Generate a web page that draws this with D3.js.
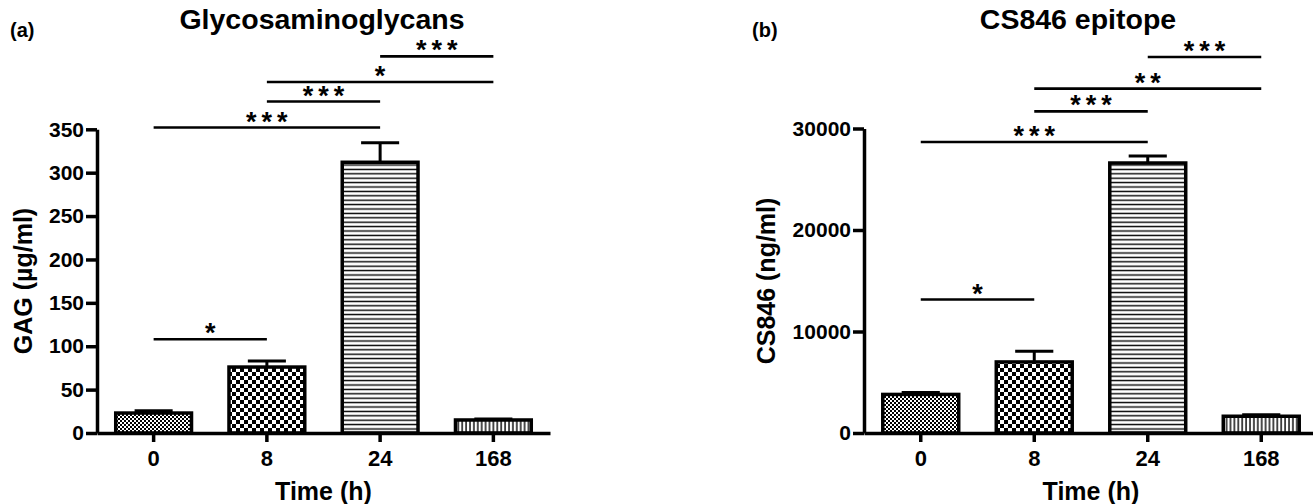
<!DOCTYPE html>
<html><head><meta charset="utf-8">
<script src="https://cdn.jsdelivr.net/npm/d3@7"></script>
<style>
body{margin:0;background:#fff}
svg{display:block}
text{font-family:"Liberation Sans",Arial,Helvetica,sans-serif;font-weight:bold;fill:#000}
</style>
</head><body>
<svg id="chart" width="1313" height="504"></svg>
<script>
// ---------- data ----------
const categories = ["0", "8", "24", "168"];
const patternIds = ["pFine", "pCheck", "pHLines", "pVLines"];

const gagTitle = "Glycosaminoglycans";
const gagYLabel = "GAG (\u00b5g/ml)";
const gagMeans = [23, 76, 312, 15];
const gagErrors = [2.5, 7, 22.5, 1];
const gagTicks = [0, 50, 100, 150, 200, 250, 300, 350];
const gagSig = [
  {a: "0", b: "8", label: "*", y: 108},
  {a: "0", b: "24", label: "***", y: 352},
  {a: "8", b: "24", label: "***", y: 382},
  {a: "8", b: "168", label: "*", y: 404.5},
  {a: "24", b: "168", label: "***", y: 434}
];

const csTitle = "CS846 epitope";
const csYLabel = "CS846 (ng/ml)";
const csMeans = [3800, 7000, 26600, 1650];
const csErrors = [200, 1050, 700, 160];
const csTicks = [0, 10000, 20000, 30000];
const csSig = [
  {a: "0", b: "8", label: "*", y: 13150},
  {a: "0", b: "24", label: "***", y: 28670},
  {a: "8", b: "24", label: "***", y: 31690},
  {a: "8", b: "168", label: "**", y: 33930},
  {a: "24", b: "168", label: "***", y: 37040}
];
const xLabel = "Time (h)";

// ---------- patterns ----------
const svg = d3.select("#chart");
const defs = svg.append("defs");
{
  const p = defs.append("pattern").attr("id", "pFine").attr("patternUnits", "userSpaceOnUse").attr("width", 4).attr("height", 4);
  p.append("rect").attr("width", 4).attr("height", 4).attr("fill", "#fff");
  p.append("rect").attr("width", 2).attr("height", 2).attr("fill", "#000");
  p.append("rect").attr("x", 2).attr("y", 2).attr("width", 2).attr("height", 2).attr("fill", "#000");
}
{
  const p = defs.append("pattern").attr("id", "pCheck").attr("patternUnits", "userSpaceOnUse").attr("width", 8).attr("height", 8);
  p.append("rect").attr("width", 8).attr("height", 8).attr("fill", "#fff");
  p.append("rect").attr("width", 4).attr("height", 4).attr("fill", "#000");
  p.append("rect").attr("x", 4).attr("y", 4).attr("width", 4).attr("height", 4).attr("fill", "#000");
}
{
  const p = defs.append("pattern").attr("id", "pHLines").attr("patternUnits", "userSpaceOnUse").attr("width", 4.4).attr("height", 4.4);
  p.append("rect").attr("width", 4.4).attr("height", 4.4).attr("fill", "#fff");
  p.append("rect").attr("y", 1.5).attr("width", 4.4).attr("height", 1.4).attr("fill", "#000");
}
{
  const p = defs.append("pattern").attr("id", "pVLines").attr("patternUnits", "userSpaceOnUse").attr("width", 3.9).attr("height", 3.9);
  p.append("rect").attr("width", 3.9).attr("height", 3.9).attr("fill", "#fff");
  p.append("rect").attr("x", 1.3).attr("width", 1.4).attr("height", 3.9).attr("fill", "#000");
}

// ---------- drawing ----------
function panel(cfg) {
  const g = svg.append("g");
  const x = d3.scaleBand().domain(categories).range([cfg.x0, cfg.x1]).paddingInner(0.3).paddingOuter(0.15);
  const y = d3.scaleLinear().domain([0, cfg.max]).range([433, cfg.top]);
  const bw = x.bandwidth();

  // bars
  g.selectAll("rect.bar").data(cfg.means).join("rect")
    .attr("x", (d, i) => x(categories[i]) + 1.75)
    .attr("y", d => y(d))
    .attr("width", bw - 3.5)
    .attr("height", d => y(0) - y(d))
    .attr("fill", (d, i) => `url(#${patternIds[i]})`)
    .attr("stroke", "#000").attr("stroke-width", 3.5);

  // error bars (upper only)
  cfg.means.forEach((m, i) => {
    const cx = x(categories[i]) + bw / 2;
    g.append("line").attr("x1", cx).attr("x2", cx).attr("y1", y(m)).attr("y2", y(m + cfg.errors[i]))
      .attr("stroke", "#000").attr("stroke-width", 3);
    g.append("line").attr("x1", cx - bw * 0.24).attr("x2", cx + bw * 0.24)
      .attr("y1", y(m + cfg.errors[i])).attr("y2", y(m + cfg.errors[i]))
      .attr("stroke", "#000").attr("stroke-width", 3);
  });

  // axes
  const ya = g.append("g").attr("transform", `translate(${cfg.x0},0)`)
    .call(d3.axisLeft(y).tickValues(cfg.ticks).tickSize(11).tickSizeOuter(0).tickPadding(2).tickFormat(d3.format("d")));
  ya.select(".domain").attr("stroke-width", 3.5);
  ya.selectAll(".tick line").attr("stroke-width", 3.5);
  ya.selectAll(".tick text").attr("font-size", 21).attr("font-family", null);

  const xa = g.append("g").attr("transform", `translate(0,433)`)
    .call(d3.axisBottom(x).tickSize(9).tickSizeOuter(0).tickPadding(8));
  xa.select(".domain").attr("stroke-width", 3.5);
  xa.selectAll(".tick line").attr("stroke-width", 3.5);
  xa.selectAll(".tick text").attr("font-size", 22).attr("font-family", null);

  // significance brackets
  cfg.sig.forEach(s => {
    const xa0 = x(s.a) + bw / 2, xb0 = x(s.b) + bw / 2;
    g.append("line").attr("x1", xa0).attr("x2", xb0).attr("y1", y(s.y)).attr("y2", y(s.y))
      .attr("stroke", "#000").attr("stroke-width", 2.6);
    g.append("text").attr("x", (xa0 + xb0) / 2 + 2.5).attr("y", y(s.y) + 3)
      .attr("text-anchor", "middle").attr("font-size", 27).attr("font-weight", "normal")
      .attr("letter-spacing", 5).text(s.label);
  });

  // titles and labels
  g.append("text").attr("x", cfg.titleX).attr("y", 29).attr("text-anchor", "middle").attr("font-size", 28.5).text(cfg.title);
  g.append("text").attr("x", cfg.tagX).attr("y", 37).attr("font-size", 20).text(cfg.tag);
  g.append("text").attr("transform", `translate(${cfg.yLabelX},281) rotate(-90)`).attr("text-anchor", "middle")
    .attr("dy", "0.35em").attr("font-size", 25).text(cfg.yLabel);
  g.append("text").attr("x", (cfg.x0 + cfg.x1) / 2).attr("y", 500).attr("text-anchor", "middle").attr("font-size", 25).text(xLabel);
}

panel({x0: 97, x1: 550, top: 129.3, max: 350, means: gagMeans, errors: gagErrors, ticks: gagTicks, sig: gagSig,
  title: gagTitle, titleX: 322, tag: "(a)", tagX: 10, yLabel: gagYLabel, yLabelX: 23});
panel({x0: 864, x1: 1318, top: 128.5, max: 30000, means: csMeans, errors: csErrors, ticks: csTicks, sig: csSig,
  title: csTitle, titleX: 1078, tag: "(b)", tagX: 752, yLabel: csYLabel, yLabelX: 766});
</script>
</body></html>
